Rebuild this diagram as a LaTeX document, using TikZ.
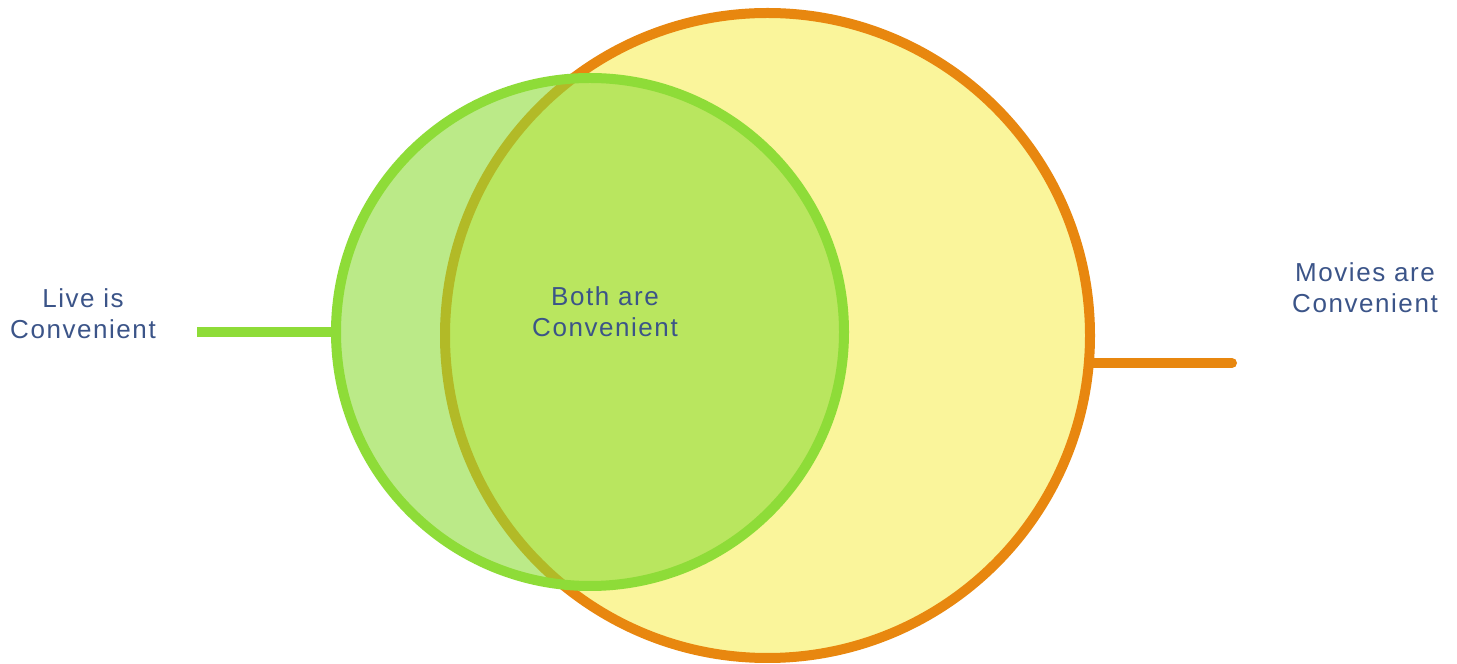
\documentclass[tikz,border=0pt]{standalone}
\usepackage{fontspec}
\setmainfont{Liberation Sans}
\definecolor{orangeline}{HTML}{E8870F}
\definecolor{yellowfill}{HTML}{FAF59B}
\definecolor{greenline}{HTML}{8EDC38}
\definecolor{txt}{HTML}{3B5488}
\tikzset{
  lbl/.style={align=center, text=txt, font=\fontsize{26}{31}\selectfont\addfontfeature{LetterSpace=6}, inner sep=0pt},
  bigset/.style={circle, inner sep=0pt, outer sep=0pt, line width=10pt},
}
\begin{document}
\begin{tikzpicture}[x=1pt,y=1pt]
\useasboundingbox (0,0) rectangle (1457,664);
\node[bigset, minimum size=645pt, draw=orangeline, fill=yellowfill] (movies) at (767.5,328.5) {};
\node[bigset, minimum size=508pt, draw=greenline, fill=greenline, fill opacity=0.6, draw opacity=1] (live) at (590,332) {};
\coordinate (lend) at (197,332);
\coordinate (mend) at (1232,301);
\draw[greenline, line width=10pt] (lend) -- (live.west);
\draw[orangeline, line width=10pt, line cap=round] (mend -| movies.east) -- (mend);
\node[lbl] (livetxt) at (83,350) {Live is\\Convenient};
\node[lbl] (bothtxt) at (605,352) {Both are\\Convenient};
\node[lbl] (movtxt) at (1365,376) {Movies are\\Convenient};
\end{tikzpicture}
\end{document}
